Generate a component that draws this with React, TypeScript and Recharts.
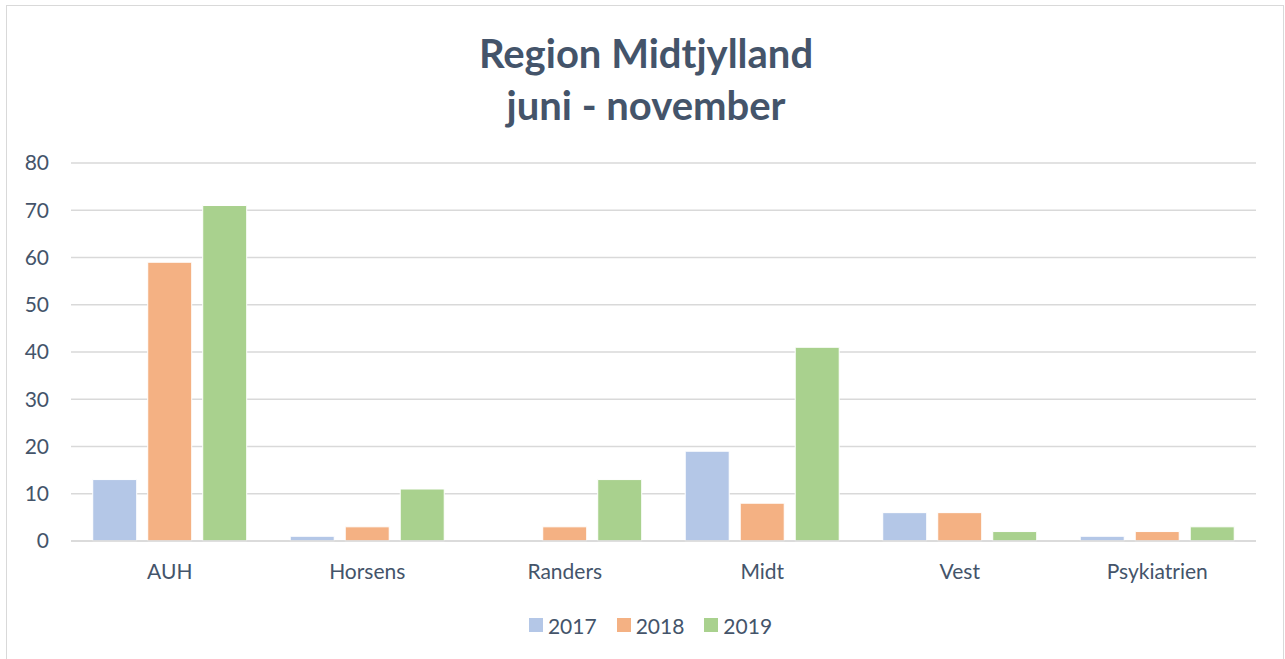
import { BarChart, Bar, XAxis, YAxis, CartesianGrid, Legend } from 'recharts'

const categories = ['AUH', 'Horsens', 'Randers', 'Midt', 'Vest', 'Psykiatrien']
const values2017 = [13, 1, 0, 19, 6, 1]
const values2018 = [59, 3, 3, 8, 6, 2]
const values2019 = [71, 11, 13, 41, 2, 3]
const yTicks = [0, 10, 20, 30, 40, 50, 60, 70, 80]

const series = [
  { key: '2017', color: '#B4C7E7' },
  { key: '2018', color: '#F4B183' },
  { key: '2019', color: '#A9D18E' },
]

const data = categories.map((name, i) => ({
  name,
  '2017': values2017[i],
  '2018': values2018[i],
  '2019': values2019[i],
}))

const textColor = '#44546A'
const font = 'Lato, "Open Sans", sans-serif'

function LegendContent() {
  return (
    <div style={{ display: 'flex', justifyContent: 'center', alignItems: 'center', gap: 20, height: 40, paddingLeft: 34 }}>
      {series.map((s) => (
        <div key={s.key} style={{ display: 'flex', alignItems: 'center', gap: 5 }}>
          <span style={{ width: 14, height: 14, background: s.color, display: 'inline-block' }} />
          <span style={{ fontFamily: font, fontSize: 21, color: textColor }}>{s.key}</span>
        </div>
      ))}
    </div>
  )
}

export default function App() {
  return (
    <div style={{ position: 'absolute', left: 0, top: 0, width: 1285, height: 659, background: '#fff', overflow: 'hidden' }}>
      <div style={{ position: 'absolute', left: 6, top: 5, width: 1276, height: 670, border: '1.5px solid #D9D9D9' }} />
      <div
        style={{
          position: 'absolute',
          left: 0,
          top: 27,
          width: 1292,
          textAlign: 'center',
          fontFamily: font,
          fontWeight: 700,
          fontSize: 40,
          lineHeight: '52px',
          color: textColor,
        }}
      >
        Region Midtjylland
        <br />
        juni - november
      </div>
      <div style={{ position: 'absolute', left: 0, top: 0 }}>
        <BarChart
          width={1285}
          height={659}
          data={data}
          margin={{ top: 163, right: 29, bottom: 14, left: 11 }}
          barCategoryGap="11%"
          barGap={11}
        >
          <CartesianGrid vertical={false} stroke="#D9D9D9" strokeWidth={1.5} />
          <XAxis
            dataKey="name"
            axisLine={{ stroke: '#D9D9D9', strokeWidth: 1.5 }}
            tickLine={false}
            tickMargin={17}
            height={64}
            tick={{ fill: textColor, fontSize: 21, fontFamily: font }}
          />
          <YAxis
            domain={[0, 80]}
            ticks={yTicks}
            axisLine={false}
            tickLine={false}
            tickMargin={16}
            width={60}
            tick={{ fill: textColor, fontSize: 21, fontFamily: font }}
          />
          <Legend verticalAlign="bottom" height={40} content={<LegendContent />} />
          {series.map((s) => (
            <Bar key={s.key} dataKey={s.key} fill={s.color} stroke="#fff" strokeWidth={1} isAnimationActive={false} />
          ))}
        </BarChart>
      </div>
    </div>
  )
}
